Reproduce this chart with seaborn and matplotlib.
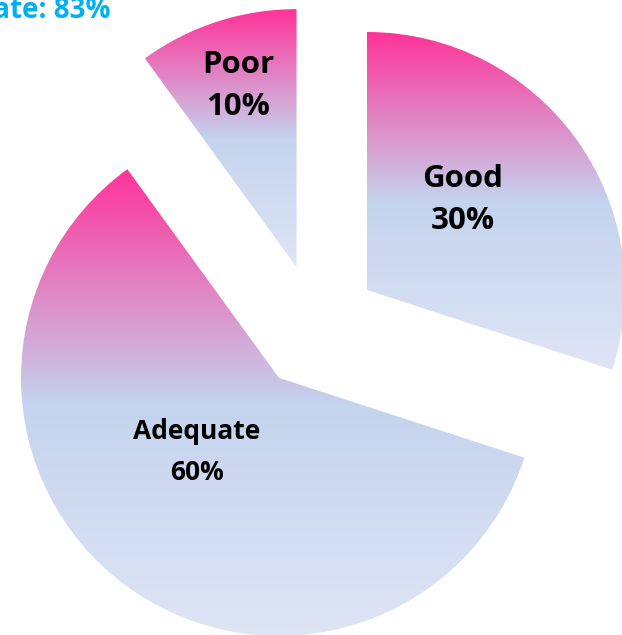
import numpy as np
import matplotlib
matplotlib.use("Agg")
import matplotlib.pyplot as plt
import seaborn as sns

sns.set_theme(style="white")
plt.rcParams["font.family"] = ["Open Sans", "DejaVu Sans"]

# Ratings share
categories = ["Good", "Adequate", "Poor"]
shares = [30, 60, 10]
title_text = "Response Rate: 83%"

# Vertical gradient used to fill each slice (top -> middle -> bottom)
grad_colors = ["#FF3399", "#C4D3EE", "#DEE5F5"]
grad = sns.blend_palette(grad_colors, n_colors=256)
grad_img = np.array(grad)[:, None, :3]

fig = plt.figure(figsize=(6.22, 6.35), dpi=100)
ax = fig.add_axes([0, 0, 1, 1])

wedges, _ = ax.pie(
    shares,
    startangle=90,
    counterclock=False,
    explode=[0.244] * len(shares),
    radius=1.0,
    wedgeprops=dict(facecolor="none", edgecolor="none", linewidth=0),
)

for w in wedges:
    bb = w.get_path().get_extents()
    im = ax.imshow(
        grad_img,
        extent=[bb.x0, bb.x1, bb.y0, bb.y1],
        origin="upper",
        aspect="auto",
        interpolation="bilinear",
        zorder=1,
    )
    im.set_clip_path(w)

# Slice labels
label_pos = {"Good": (0.570, 0.492), "Adequate": (-0.461, -0.484), "Poor": (-0.302, 0.934)}
label_size = {"Good": 22.5, "Adequate": 19, "Poor": 22.5}
label_spacing = {"Good": 1.55, "Adequate": 1.65, "Poor": 1.55}
for cat, val in zip(categories, shares):
    x, y = label_pos[cat]
    ax.text(x, y, f"{cat}\n{val}%", ha="center", va="center",
            fontsize=label_size[cat], fontweight="bold", color="black",
            linespacing=label_spacing[cat], zorder=3)

ax.set_xlim(-316 / 258, (622 - 316) / 258)
ax.set_ylim((327 - 635) / 258, 327 / 258)
ax.set_aspect("auto")
ax.axis("off")

fig.text(110 / 622, 1 - 18 / 635, title_text, ha="right", va="baseline",
         fontsize=20, fontweight="bold", color="#00B0F0")

fig.savefig("out.png", dpi=100, facecolor="white")
